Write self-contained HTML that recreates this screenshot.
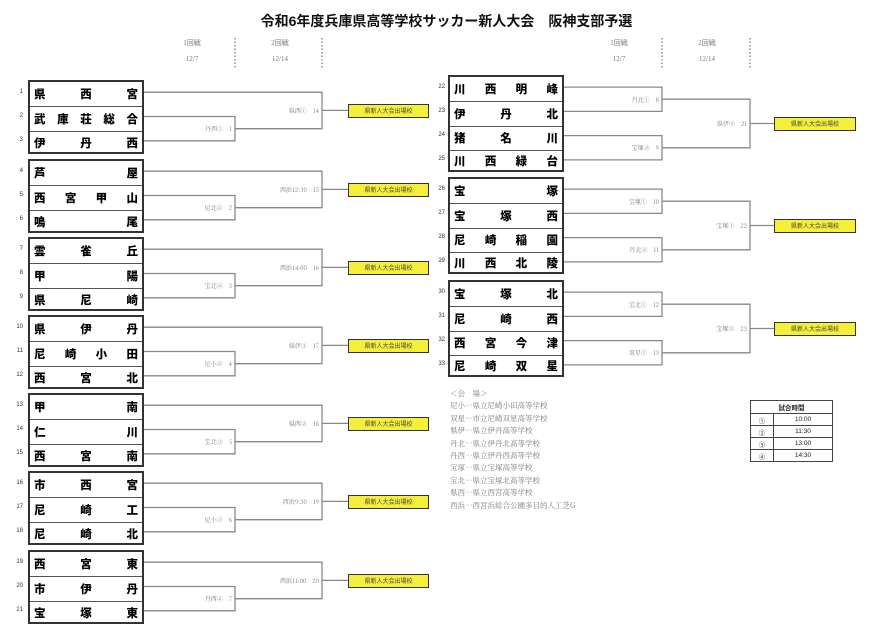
<!DOCTYPE html>
<html><head><meta charset="utf-8"><style>
body{margin:0;background:#fff;width:893px;height:640px;position:relative;overflow:hidden;font-family:"Liberation Sans","Noto Sans CJK JP",sans-serif}
.t{position:absolute;left:0;top:11px;width:893px;text-align:center;font-weight:bold;font-size:14px;color:#111}
.box{position:absolute;border:2px solid #333;box-sizing:border-box}
.r{display:flex;justify-content:space-between;align-items:center;padding:0 4px;border-top:1px solid #555;box-sizing:border-box;font-weight:900;font-size:11.5px;color:#000;font-family:"Noto Sans CJK JP",sans-serif}
.r:first-child{border-top:none}
.n{position:absolute;font-size:6px;color:#333;width:14px;text-align:right}
.y{position:absolute;background:#f5ef3a;border:1.5px solid #333;box-sizing:border-box;font-size:6px;color:#444;text-align:center;font-family:"Noto Sans CJK JP",sans-serif}
svg{position:absolute;left:0;top:0}
.lb{font-size:6px;fill:#777;font-family:"Noto Serif CJK SC",serif}
.v{position:absolute;left:450px;top:388px;font-size:7.5px;color:#777;line-height:12.4px;font-family:"Noto Serif CJK SC",serif}
table{position:absolute;left:750px;top:400px;border-collapse:collapse;font-size:6.5px;color:#222;width:83px;border:1.5px solid #333}
td{border:1px solid #444;text-align:center;height:11px;padding:0}
</style></head><body>
<div class="t">令和6年度兵庫県高等学校サッカー新人大会　阪神支部予選</div>

<svg width="893" height="640">
<g font-size="7" fill="#777" font-family="Liberation Serif,serif" text-anchor="middle">
<text x="192" y="45">1回戦</text><text x="192" y="61">12/7</text>
<text x="280" y="45">2回戦</text><text x="280" y="61">12/14</text>
<text x="619" y="45">1回戦</text><text x="619" y="61">12/7</text>
<text x="707" y="45">2回戦</text><text x="707" y="61">12/14</text>
</g>
<g stroke="#555" stroke-dasharray="1.5,2" stroke-width="1">
<line x1="235" y1="38" x2="235" y2="68"/><line x1="322" y1="38" x2="322" y2="68"/>
<line x1="662" y1="38" x2="662" y2="68"/><line x1="750" y1="38" x2="750" y2="68"/>
</g>
<g stroke="#888" stroke-width="1.3" fill="none">
<path d="M143 92.2H322V110.4H348M143 116.5H235V140.8H143M235 128.7H322V110.4"/>
<path d="M143 171.2H322V189.4H348M143 195.5H235V219.8H143M235 207.7H322V189.4"/>
<path d="M143 249.2H322V267.4H348M143 273.5H235V297.8H143M235 285.7H322V267.4"/>
<path d="M143 327.2H322V345.4H348M143 351.5H235V375.8H143M235 363.7H322V345.4"/>
<path d="M143 405.2H322V423.4H348M143 429.5H235V453.8H143M235 441.7H322V423.4"/>
<path d="M143 483.2H322V501.4H348M143 507.5H235V531.8H143M235 519.7H322V501.4"/>
<path d="M143 562.2H322V580.4H348M143 586.5H235V610.8H143M235 598.7H322V580.4"/>
<path d="M563 87.1H662V111.4H563M563 135.6H662V159.9H563M662 99.2H750V147.8H662M750 123.5H774"/>
<path d="M563 189.1H662V213.4H563M563 237.6H662V261.9H563M662 201.2H750V249.8H662M750 225.5H774"/>
<path d="M563 292.1H662V316.4H563M563 340.6H662V364.9H563M662 304.2H750V352.8H662M750 328.5H774"/>
</g>
<g class="lb" text-anchor="end">
<text x="232" y="131">丹西①　1</text><text x="319" y="113">県西①　14</text>
<text x="232" y="210">尼北②　2</text><text x="319" y="192">西浜12:30　15</text>
<text x="232" y="288">宝北②　3</text><text x="319" y="270">西浜14:00　16</text>
<text x="232" y="366">尼小②　4</text><text x="319" y="348">県伊③　17</text>
<text x="232" y="444">宝北③　5</text><text x="319" y="426">県西②　18</text>
<text x="232" y="522">尼小③　6</text><text x="319" y="504">西浜9:30　19</text>
<text x="232" y="601">丹西②　7</text><text x="319" y="583">西浜11:00　20</text>
<text x="659" y="102">丹北①　8</text><text x="659" y="150">宝塚②　9</text><text x="747" y="126">県伊④　21</text>
<text x="659" y="204">宝塚①　10</text><text x="659" y="252">丹北②　11</text><text x="747" y="228">宝塚①　22</text>
<text x="659" y="307">宝北①　12</text><text x="659" y="355">双星①　13</text><text x="747" y="331">宝塚②　23</text>
</g>
</svg>

<div class="box" style="left:28px;top:80px;width:116px;height:74px"><div class="r" style="height:24.3px"><span>県</span><span>西</span><span>宮</span></div><div class="r" style="height:24.3px"><span>武</span><span>庫</span><span>荘</span><span>総</span><span>合</span></div><div class="r" style="height:23px"><span>伊</span><span>丹</span><span>西</span></div></div>
<div class="box" style="left:28px;top:159px;width:116px;height:74px"><div class="r" style="height:24.3px"><span>芦</span><span>屋</span></div><div class="r" style="height:24.3px"><span>西</span><span>宮</span><span>甲</span><span>山</span></div><div class="r" style="height:23px"><span>鳴</span><span>尾</span></div></div>
<div class="box" style="left:28px;top:237px;width:116px;height:74px"><div class="r" style="height:24.3px"><span>雲</span><span>雀</span><span>丘</span></div><div class="r" style="height:24.3px"><span>甲</span><span>陽</span></div><div class="r" style="height:23px"><span>県</span><span>尼</span><span>崎</span></div></div>
<div class="box" style="left:28px;top:315px;width:116px;height:74px"><div class="r" style="height:24.3px"><span>県</span><span>伊</span><span>丹</span></div><div class="r" style="height:24.3px"><span>尼</span><span>崎</span><span>小</span><span>田</span></div><div class="r" style="height:23px"><span>西</span><span>宮</span><span>北</span></div></div>
<div class="box" style="left:28px;top:393px;width:116px;height:74px"><div class="r" style="height:24.3px"><span>甲</span><span>南</span></div><div class="r" style="height:24.3px"><span>仁</span><span>川</span></div><div class="r" style="height:23px"><span>西</span><span>宮</span><span>南</span></div></div>
<div class="box" style="left:28px;top:471px;width:116px;height:74px"><div class="r" style="height:24.3px"><span>市</span><span>西</span><span>宮</span></div><div class="r" style="height:24.3px"><span>尼</span><span>崎</span><span>工</span></div><div class="r" style="height:23px"><span>尼</span><span>崎</span><span>北</span></div></div>
<div class="box" style="left:28px;top:550px;width:116px;height:74px"><div class="r" style="height:24.3px"><span>西</span><span>宮</span><span>東</span></div><div class="r" style="height:24.3px"><span>市</span><span>伊</span><span>丹</span></div><div class="r" style="height:23px"><span>宝</span><span>塚</span><span>東</span></div></div>

<div class="box" style="left:448px;top:75px;width:116px;height:97px"><div class="r" style="height:24.25px"><span>川</span><span>西</span><span>明</span><span>峰</span></div><div class="r" style="height:24.25px"><span>伊</span><span>丹</span><span>北</span></div><div class="r" style="height:24.25px"><span>猪</span><span>名</span><span>川</span></div><div class="r" style="height:22px"><span>川</span><span>西</span><span>緑</span><span>台</span></div></div>
<div class="box" style="left:448px;top:177px;width:116px;height:97px"><div class="r" style="height:24.25px"><span>宝</span><span>塚</span></div><div class="r" style="height:24.25px"><span>宝</span><span>塚</span><span>西</span></div><div class="r" style="height:24.25px"><span>尼</span><span>崎</span><span>稲</span><span>園</span></div><div class="r" style="height:22px"><span>川</span><span>西</span><span>北</span><span>陵</span></div></div>
<div class="box" style="left:448px;top:280px;width:116px;height:97px"><div class="r" style="height:24.25px"><span>宝</span><span>塚</span><span>北</span></div><div class="r" style="height:24.25px"><span>尼</span><span>崎</span><span>西</span></div><div class="r" style="height:24.25px"><span>西</span><span>宮</span><span>今</span><span>津</span></div><div class="r" style="height:22px"><span>尼</span><span>崎</span><span>双</span><span>星</span></div></div>

<div class="n" style="left:9px;top:89px">1</div><div class="n" style="left:9px;top:113px">2</div><div class="n" style="left:9px;top:137px">3</div>
<div class="n" style="left:9px;top:168px">4</div><div class="n" style="left:9px;top:192px">5</div><div class="n" style="left:9px;top:216px">6</div>
<div class="n" style="left:9px;top:246px">7</div><div class="n" style="left:9px;top:270px">8</div><div class="n" style="left:9px;top:294px">9</div>
<div class="n" style="left:9px;top:324px">10</div><div class="n" style="left:9px;top:348px">11</div><div class="n" style="left:9px;top:372px">12</div>
<div class="n" style="left:9px;top:402px">13</div><div class="n" style="left:9px;top:426px">14</div><div class="n" style="left:9px;top:450px">15</div>
<div class="n" style="left:9px;top:480px">16</div><div class="n" style="left:9px;top:504px">17</div><div class="n" style="left:9px;top:528px">18</div>
<div class="n" style="left:9px;top:559px">19</div><div class="n" style="left:9px;top:583px">20</div><div class="n" style="left:9px;top:607px">21</div>
<div class="n" style="left:431px;top:84px">22</div><div class="n" style="left:431px;top:108px">23</div><div class="n" style="left:431px;top:132px">24</div><div class="n" style="left:431px;top:156px">25</div>
<div class="n" style="left:431px;top:186px">26</div><div class="n" style="left:431px;top:210px">27</div><div class="n" style="left:431px;top:234px">28</div><div class="n" style="left:431px;top:258px">29</div>
<div class="n" style="left:431px;top:289px">30</div><div class="n" style="left:431px;top:313px">31</div><div class="n" style="left:431px;top:337px">32</div><div class="n" style="left:431px;top:361px">33</div>

<div class="y" style="left:348px;top:104px;width:81px;height:14px;line-height:11px">県新人大会出場校</div>
<div class="y" style="left:348px;top:183px;width:81px;height:14px;line-height:11px">県新人大会出場校</div>
<div class="y" style="left:348px;top:261px;width:81px;height:14px;line-height:11px">県新人大会出場校</div>
<div class="y" style="left:348px;top:339px;width:81px;height:14px;line-height:11px">県新人大会出場校</div>
<div class="y" style="left:348px;top:417px;width:81px;height:14px;line-height:11px">県新人大会出場校</div>
<div class="y" style="left:348px;top:495px;width:81px;height:14px;line-height:11px">県新人大会出場校</div>
<div class="y" style="left:348px;top:574px;width:81px;height:14px;line-height:11px">県新人大会出場校</div>
<div class="y" style="left:774px;top:117px;width:82px;height:14px;line-height:11px">県新人大会出場校</div>
<div class="y" style="left:774px;top:219px;width:82px;height:14px;line-height:11px">県新人大会出場校</div>
<div class="y" style="left:774px;top:322px;width:82px;height:14px;line-height:11px">県新人大会出場校</div>

<div class="v">＜会　場＞<br>尼小…県立尼崎小田高等学校<br>双星…市立尼崎双星高等学校<br>県伊…県立伊丹高等学校<br>丹北…県立伊丹北高等学校<br>丹西…県立伊丹西高等学校<br>宝塚…県立宝塚高等学校<br>宝北…県立宝塚北高等学校<br>県西…県立西宮高等学校<br>西浜…西宮浜総合公園多目的人工芝G</div>

<table>
<tr><td colspan="2" style="font-weight:bold;height:12px">試合時間</td></tr>
<tr><td style="width:22px">①</td><td>10:00</td></tr>
<tr><td>②</td><td>11:30</td></tr>
<tr><td>③</td><td>13:00</td></tr>
<tr><td>④</td><td>14:30</td></tr>
</table>
</body></html>
